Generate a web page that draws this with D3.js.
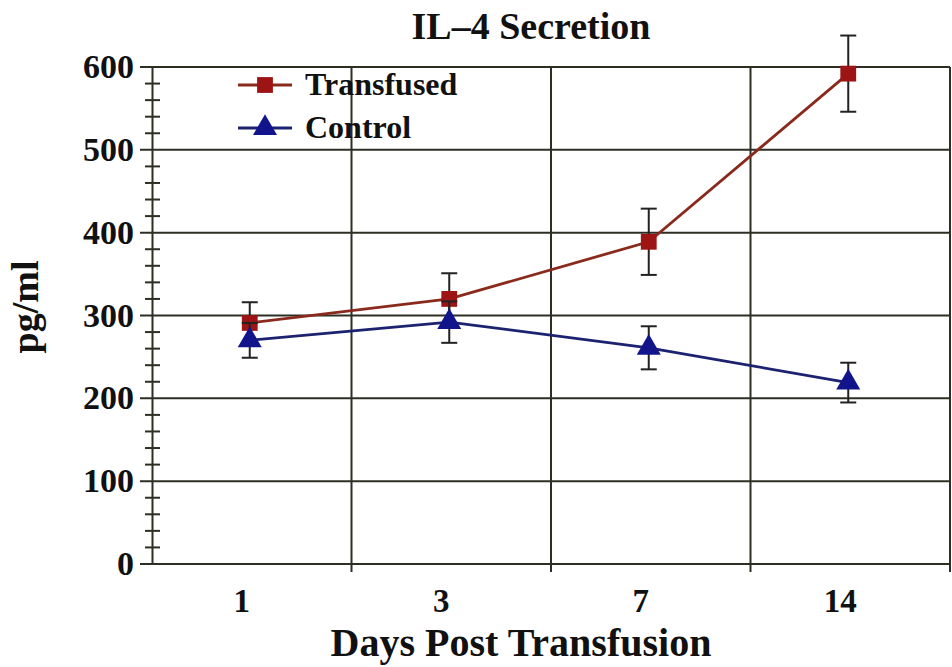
<!DOCTYPE html>
<html lang="en">
<head>
<meta charset="utf-8">
<title>IL-4 Secretion</title>
<script src="https://d3js.org/d3.v7.min.js"></script>
<style>
  body { margin: 0; background: #fff; }
  text { font-family: "Liberation Serif", "Times New Roman", serif; font-weight: bold; fill: #111; }
</style>
</head>
<body>
<script>
// data
var days = ["1", "3", "7", "14"];
var transfused = [291, 320, 389, 592];
var transfusedErr = [25, 31, 40, 46];
var control = [270, 292, 261, 219];
var controlErr = [21, 25, 26, 24];
var yTicks = [0, 100, 200, 300, 400, 500, 600];

var w = 952, h = 667;
var pLeft = 152, pRight = 950, pTop = 67, pBottom = 564;

var svg = d3.select("body").append("svg")
  .attr("width", w)
  .attr("height", h);

var x = d3.scaleBand().domain(days).range([pLeft, pRight]);
var y = d3.scaleLinear().domain([0, 600]).range([pBottom, pTop]);

var gridCol = "#2e2e24";

// horizontal gridlines
svg.append("g").selectAll("line")
  .data(yTicks)
  .enter().append("line")
  .attr("x1", pLeft - 12).attr("x2", pRight)
  .attr("y1", function(d) { return y(d); })
  .attr("y2", function(d) { return y(d); })
  .attr("stroke", gridCol)
  .attr("stroke-width", 2);

// vertical gridlines between categories
var bounds = days.slice(1).map(function(d) { return x(d); });
svg.append("g").selectAll("line")
  .data(bounds)
  .enter().append("line")
  .attr("x1", function(d) { return d; })
  .attr("x2", function(d) { return d; })
  .attr("y1", pTop).attr("y2", pBottom + 8)
  .attr("stroke", gridCol)
  .attr("stroke-width", 2);

// right border
svg.append("line")
  .attr("x1", pRight).attr("x2", pRight)
  .attr("y1", pTop).attr("y2", pBottom + 8)
  .attr("stroke", gridCol).attr("stroke-width", 2);

// y axis line
var yAxis = d3.axisLeft(y).tickValues([]).tickSize(0);
svg.append("g")
  .attr("transform", "translate(" + pLeft + ",0)")
  .call(yAxis)
  .call(function(g) { g.select(".domain").attr("stroke", gridCol).attr("stroke-width", 2); });

// minor ticks every 20
svg.append("g").selectAll("line")
  .data(d3.range(0, 601, 20).filter(function(d) { return d % 100 !== 0; }))
  .enter().append("line")
  .attr("x1", pLeft - 7).attr("x2", pLeft + 8)
  .attr("y1", function(d) { return y(d); })
  .attr("y2", function(d) { return y(d); })
  .attr("stroke", gridCol)
  .attr("stroke-width", 2);

// y tick labels
svg.append("g").selectAll("text")
  .data(yTicks)
  .enter().append("text")
  .attr("x", 134)
  .attr("y", function(d) { return y(d) + 11; })
  .attr("text-anchor", "end")
  .attr("font-size", 34)
  .text(function(d) { return d; });

// x tick labels
svg.append("g").selectAll("text")
  .data(days)
  .enter().append("text")
  .attr("x", function(d) { return x(d) + x.bandwidth() / 2 - 10; })
  .attr("y", 612)
  .attr("text-anchor", "middle")
  .attr("font-size", 33)
  .text(function(d) { return d; });

// titles
svg.append("text")
  .attr("x", 531).attr("y", 39)
  .attr("text-anchor", "middle")
  .attr("font-size", 38)
  .text("IL\u20134 Secretion");

svg.append("text")
  .attr("x", 521).attr("y", 656)
  .attr("text-anchor", "middle")
  .attr("font-size", 40)
  .text("Days Post Transfusion");

svg.append("text")
  .attr("transform", "translate(38,307) rotate(-90)")
  .attr("text-anchor", "middle")
  .attr("font-size", 38)
  .text("pg/ml");

var series = [
  { name: "Transfused", vals: transfused, err: transfusedErr, line: "#8a2a1c", fill: "#9c1414", shape: d3.symbolSquare },
  { name: "Control", vals: control, err: controlErr, line: "#1c2270", fill: "#12148c", shape: d3.symbolTriangle }
];

var cx = function(i) { return x(days[i]) + x.bandwidth() / 2 - 2; };

series.forEach(function(s) {
  var line = d3.line()
    .x(function(d, i) { return cx(i); })
    .y(function(d) { return y(d); });

  svg.append("path")
    .datum(s.vals)
    .attr("d", line)
    .attr("fill", "none")
    .attr("stroke", s.line)
    .attr("stroke-width", 2.8);

  var eb = svg.append("g").selectAll("g")
    .data(s.vals)
    .enter().append("g");
  eb.append("line")
    .attr("x1", function(d, i) { return cx(i); })
    .attr("x2", function(d, i) { return cx(i); })
    .attr("y1", function(d, i) { return y(d + s.err[i]); })
    .attr("y2", function(d, i) { return y(d - s.err[i]); })
    .attr("stroke", "#222").attr("stroke-width", 2);
  [1, -1].forEach(function(sign) {
    eb.append("line")
      .attr("x1", function(d, i) { return cx(i) - 8; })
      .attr("x2", function(d, i) { return cx(i) + 8; })
      .attr("y1", function(d, i) { return y(d + sign * s.err[i]); })
      .attr("y2", function(d, i) { return y(d + sign * s.err[i]); })
      .attr("stroke", "#222").attr("stroke-width", 2);
  });

  svg.append("g").selectAll("path")
    .data(s.vals)
    .enter().append("path")
    .attr("d", d3.symbol().type(s.shape).size(250))
    .attr("transform", function(d, i) { return "translate(" + cx(i) + "," + y(d) + ")"; })
    .attr("fill", s.fill);
});

// legend
var legend = svg.append("g");
series.forEach(function(s, i) {
  var ly = 85 + i * 43;
  legend.append("line")
    .attr("x1", 238).attr("x2", 292)
    .attr("y1", ly).attr("y2", ly)
    .attr("stroke", s.line).attr("stroke-width", 2.8);
  legend.append("path")
    .attr("d", d3.symbol().type(s.shape).size(250))
    .attr("transform", "translate(265," + ly + ")")
    .attr("fill", s.fill);
  legend.append("text")
    .attr("x", 305).attr("y", ly + 10)
    .attr("font-size", 32)
    .text(s.name);
});
</script>
</body>
</html>
